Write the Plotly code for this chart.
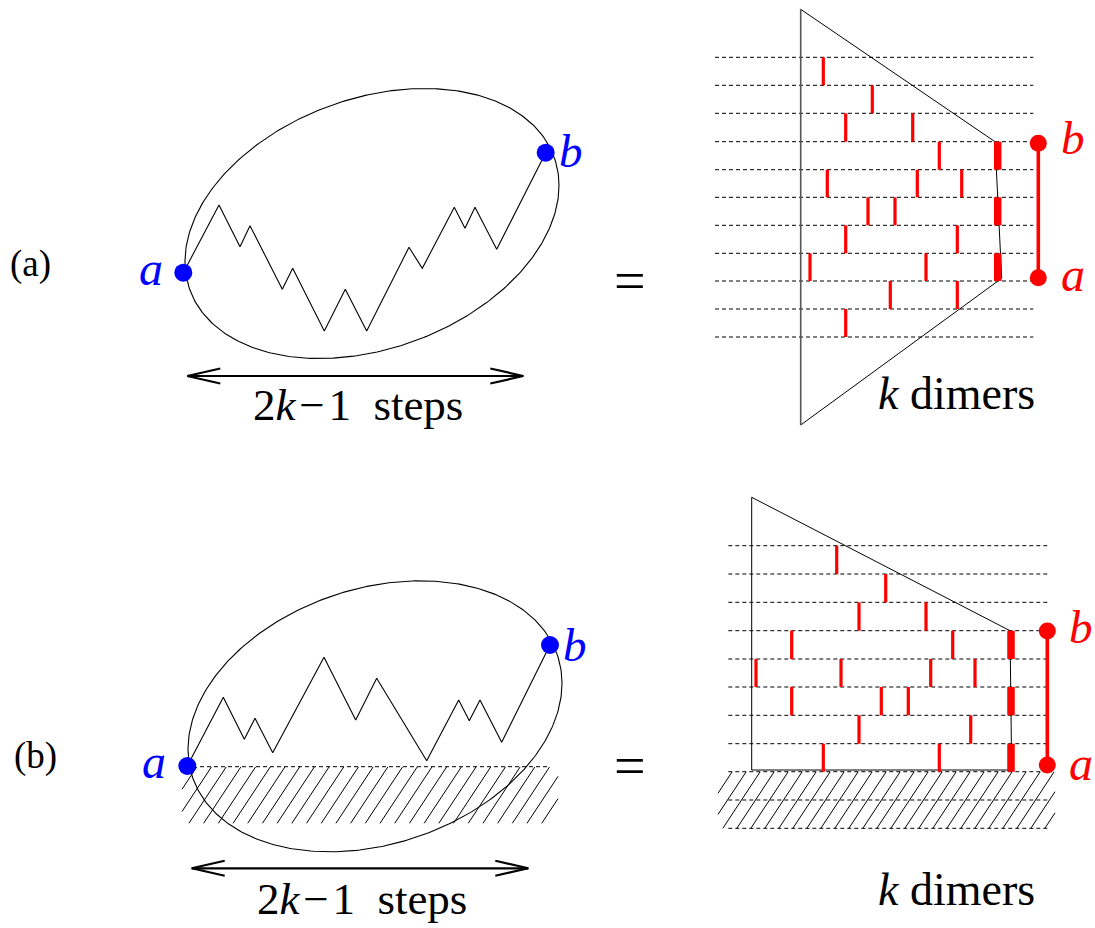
import numpy as np
import plotly.graph_objects as go

# ---------------- data (picture coordinates, y grows downwards) ----------------
# panel (a): random walk inside the ellipse
walk_a_x = [183.3, 219, 240, 250, 282.3, 292.7, 324.3, 345.3, 366.7, 409, 422.3, 454.3, 465, 475, 496.7, 545.7]
walk_a_y = [272.7, 205, 246.7, 225.7, 289.3, 268.3, 331, 289.3, 331, 247.3, 268.3, 207.3, 228.3, 207.3, 249.3, 152.7]
# panel (b): walk above the wall
walk_b_x = [187.3, 223.3, 244.3, 255, 272.7, 324, 355.7, 376.7, 426.7, 458.7, 469.3, 480, 501.7, 550]
walk_b_y = [766, 697.3, 739.3, 718.3, 752.7, 657.3, 720, 678.3, 760.7, 700, 720.7, 700, 742.3, 645]

# ellipses: centre x, centre y, half width, half height, y-offset of right extreme (tilt)
ellipse_a = [372, 223.5, 187, 135, -38]
ellipse_b = [375, 716.3, 187, 135.5, -33]

# dimer lattices: horizontal dashed rows
rows_a_y = [57.3, 85.3, 113.3, 141.7, 169.7, 197.3, 225.3, 253.3, 281, 309, 337]
rows_a_x = [715, 1033.3]
rows_b_y = [545.7, 574, 602.3, 630.7, 659, 687, 715.3, 743.7, 771.7, 800, 828.3]
rows_b_x = [728.3, 1048.3]

# dimers: (row index, x position)
dimers_a_row = [0, 1, 2, 2, 3, 4, 4, 4, 5, 5, 6, 6, 7, 7, 8, 8, 9]
dimers_a_x = [823.3, 872.3, 845.7, 912.7, 939.3, 827.3, 917.3, 961.7, 868, 895, 845.7, 957.3, 810, 926, 890.3, 957.3, 845.7]
boundary_a_row = [3, 5, 7]
boundary_a_x = [997.7, 997.7, 997.7]

dimers_b_row = [0, 1, 2, 2, 3, 3, 4, 4, 4, 4, 5, 5, 5, 6, 6, 7, 7]
dimers_b_x = [836.7, 885.7, 859, 926, 791.7, 952.7, 756, 841, 930.7, 975, 791.7, 881.3, 908.3, 859, 970.7, 823.3, 939.3]
boundary_b_row = [3, 5, 7]
boundary_b_x = [1011, 1011, 1011]

# domain outlines
domain_a_x = [800.7, 995, 1001.7, 800.7]
domain_a_y = [9.3, 141.7, 278.3, 425]
domain_b_x = [751.7, 1010, 1011.7, 751.7, 751.7]
domain_b_y = [497.3, 630.7, 770, 770, 497.3]

# a-b end segments
seg_a = [1038.3, 143.3, 277.7]
seg_b = [1047.3, 631, 765]

# hatched walls: x0, x1, y0, y1
wall_left = [182, 558, 767, 823.3]
wall_right = [718, 1055, 772, 828.3]
wall_left_top = [200, 550, 766.7]

# double arrows: x0, x1, y
arrow_a = [187.3, 523.3, 376]
arrow_b = [191.7, 528.3, 868.3]

FONT = "Liberation Serif"
BLUE = "#0000ff"
RED = "#ff0000"

fig = go.Figure()


def add_line(xs, ys, color="black", width=1.0, dash=None):
    fig.add_trace(go.Scatter(x=xs, y=ys, mode="lines", hoverinfo="skip",
                             line=dict(color=color, width=width, dash=dash)))


def ellipse(p):
    cx, cy, hw, hh, d = p
    t = np.linspace(0, 2 * np.pi, 400)
    return cx + hw * np.cos(t), cy + d * np.cos(t) + np.sqrt(hh ** 2 - d ** 2) * np.sin(t)


def hatch(box, spacing=14.7, slope=0.66):
    x0, x1, y0, y1 = box
    xs, ys = [], []
    h = y1 - y0
    start = x0 - slope * h
    for xb in np.arange(start, x1 + spacing, spacing):
        ta = (x0 - xb) / (slope * h)
        tb = (x1 - xb) / (slope * h)
        lo, hi = max(0.0, ta), min(1.0, tb)
        if hi - lo < 0.05:
            continue
        xs += [xb + slope * h * lo, xb + slope * h * hi, None]
        ys += [y1 - h * lo, y1 - h * hi, None]
    return xs, ys


def segments(xs_pairs, ys_pairs):
    xs, ys = [], []
    for (xa, xb), (ya, yb) in zip(xs_pairs, ys_pairs):
        xs += [xa, xb, None]
        ys += [ya, yb, None]
    return xs, ys


# ---- ellipses and walks ----
for ep in (ellipse_a, ellipse_b):
    ex, ey = ellipse(ep)
    add_line(ex, ey, width=1.1)

hx, hy = hatch(wall_left, 14.7)
add_line(hx, hy, width=1.0)
add_line([wall_left_top[0], wall_left_top[1]], [wall_left_top[2]] * 2, width=1.0, dash="4px,3px")

add_line(walk_a_x, walk_a_y, width=1.1)
add_line(walk_b_x, walk_b_y, width=1.1)

fig.add_trace(go.Scatter(x=[walk_a_x[0], walk_a_x[-1], walk_b_x[0], walk_b_x[-1]],
                         y=[walk_a_y[0], walk_a_y[-1], walk_b_y[0], walk_b_y[-1]],
                         mode="markers", hoverinfo="skip",
                         marker=dict(size=18, color=BLUE, line=dict(width=0))))

# ---- double arrows ----
for x0, x1, y in (arrow_a, arrow_b):
    add_line([x0, x1], [y, y], width=2.2)
    hl, hw = 33, 7.5
    add_line([x0 + hl, x0, x0 + hl], [y - hw, y, y + hw], width=2.2)
    add_line([x1 - hl, x1, x1 - hl], [y - hw, y, y + hw], width=2.2)

# ---- dimer lattices ----
for rows_y, rows_x in ((rows_a_y, rows_a_x), (rows_b_y, rows_b_x)):
    xs, ys = segments([rows_x] * len(rows_y), [(r, r) for r in rows_y])
    add_line(xs, ys, width=1.0, dash="4px,3px")

hx, hy = hatch(wall_right, 14.0)
add_line(hx, hy, width=1.0)

# domain outlines
add_line(domain_a_x, domain_a_y, width=1.0)
add_line([domain_a_x[3], domain_a_x[0]], [domain_a_y[3], domain_a_y[0]], color="#555555", width=1.6)
add_line(domain_b_x, domain_b_y, width=1.0)

# dimers
for rows_y, drow, dx, brow, bx in ((rows_a_y, dimers_a_row, dimers_a_x, boundary_a_row, boundary_a_x),
                                   (rows_b_y, dimers_b_row, dimers_b_x, boundary_b_row, boundary_b_x)):
    xs, ys = segments([(x, x) for x in dx], [(rows_y[r], rows_y[r + 1]) for r in drow])
    add_line(xs, ys, color=RED, width=3.2)
    xs, ys = segments([(x, x) for x in bx], [(rows_y[r], rows_y[r + 1]) for r in brow])
    add_line(xs, ys, color=RED, width=7.5)

# a-b segments
for sx, sy0, sy1 in (seg_a, seg_b):
    add_line([sx, sx], [sy0, sy1], color=RED, width=3.6)
    fig.add_trace(go.Scatter(x=[sx, sx], y=[sy0, sy1], mode="markers", hoverinfo="skip",
                             marker=dict(size=17, color=RED, line=dict(width=0))))

# ---- text ----
steps_label = "2<i>k</i>\u200a\u2212\u200a1\u00a0\u00a0steps"
texts = [
    ("(a)", 30, 264, 37, "black"),
    ("(b)", 35.5, 756, 37, "black"),
    ("<i>a</i>", 150.5, 268, 48, BLUE),
    ("<i>b</i>", 571, 151, 47, BLUE),
    ("<i>a</i>", 154, 761, 48, BLUE),
    ("<i>b</i>", 575, 645, 47, BLUE),
    ("<i>b</i>", 1072.5, 137.5, 47, RED),
    ("<i>a</i>", 1072.5, 274, 48, RED),
    ("<i>b</i>", 1081, 627, 47, RED),
    ("<i>a</i>", 1081, 763, 48, RED),
    ("=", 630, 280.5, 56, "black"),
    ("=", 630, 766, 56, "black"),
    (steps_label, 358, 405, 45, "black"),
    (steps_label, 362, 899, 45, "black"),
    ("<i>k</i> dimers", 956, 393, 46, "black"),
    ("<i>k</i> dimers", 956, 889, 46, "black"),
]
for txt, x, y, size, col in texts:
    fig.add_annotation(x=x, y=y, text=txt, showarrow=False, xanchor="center", yanchor="middle",
                       font=dict(family=FONT, size=size, color=col))

fig.update_layout(
    width=1095, height=928, margin=dict(l=0, r=0, t=0, b=0),
    paper_bgcolor="white", plot_bgcolor="white", showlegend=False,
    xaxis=dict(range=[0, 1095], visible=False, fixedrange=True),
    yaxis=dict(range=[928, 0], visible=False, fixedrange=True),
)

fig.write_html("out.html", config={"displayModeBar": False},
               post_script="document.body.style.margin='0';")
